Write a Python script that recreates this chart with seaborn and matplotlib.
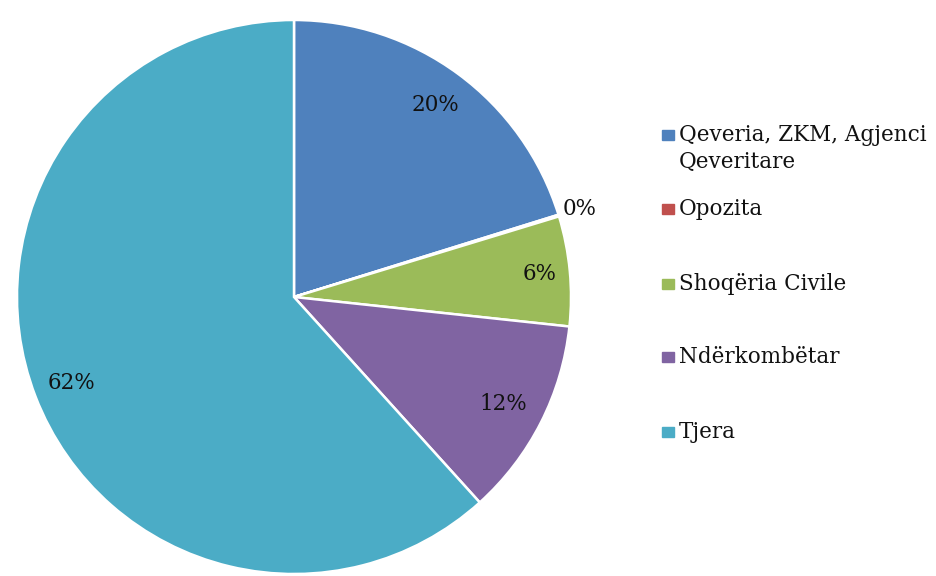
import matplotlib
matplotlib.use("Agg")
import matplotlib.pyplot as plt
import seaborn as sns
import numpy as np

sns.set_theme(style="white")
plt.rcParams['font.family'] = ['DejaVu Serif', 'Liberation Serif']

categories = ["Qeveria, ZKM, Agjenci\nQeveritare", "Opozita", "Shoqëria Civile", "Ndërkombëtar", "Tjera"]
values = [20.2, 0.1, 6.4, 11.6, 61.7]
pct_labels = ["20%", "0%", "6%", "12%", "62%"]
colors = ["#4F81BD", "#C0504D", "#9BBB59", "#8064A2", "#4BACC6"]

W, H = 937, 576
fig = plt.figure(figsize=(W / 100, H / 100), dpi=100)
cx, cy, R = 294, 297, 277
ax = fig.add_axes([(cx - R) / W, (H - cy - R) / H, 2 * R / W, 2 * R / H])

wedges, texts = ax.pie(values, colors=colors, startangle=90, counterclock=False,
                       wedgeprops=dict(edgecolor="white", linewidth=1.8))
ax.set_xlim(-1, 1)
ax.set_ylim(-1, 1)
ax.set_aspect("equal")
ax.axis("off")

label_r = [0.86, 1.08, 0.89, 0.85, 0.86]
for i, w in enumerate(wedges):
    ang = np.deg2rad((w.theta1 + w.theta2) / 2)
    r = label_r[i]
    ax.text(r * np.cos(ang), r * np.sin(ang), pct_labels[i], ha="center", va="center",
            fontsize=15.5, color="#111111")

# legend drawn manually to match the original spacing
row_y = [135, 209, 284, 357, 432]
for cat, c, y in zip(categories, colors, row_y):
    fig.patches.append(plt.Rectangle((662 / W, 1 - (y + 5) / H), 12 / W, 10 / H,
                                     transform=fig.transFigure, color=c))
    lines = cat.split("\n")
    for k, line in enumerate(lines):
        fig.text(679 / W, 1 - (y + 6 + 27 * k) / H, line, ha="left", va="baseline",
                 fontsize=15.5, color="#111111")

fig.savefig("out.png", dpi=100, facecolor="white")
